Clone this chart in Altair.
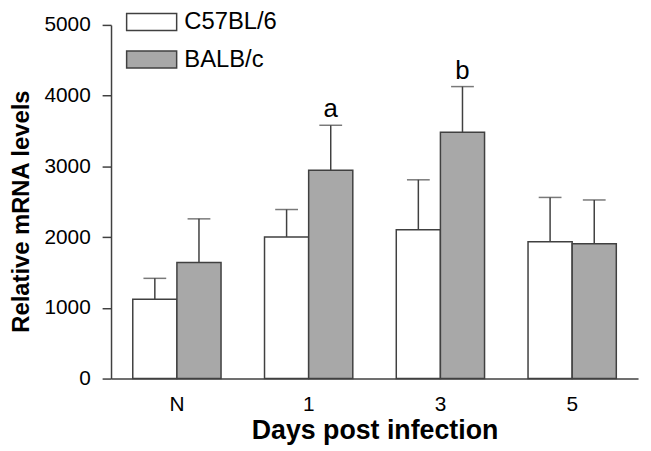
import altair as alt
import pandas as pd

days = ["N", "1", "3", "5"]
series = ["C57BL/6", "BALB/c"]
c57 = [1120, 2000, 2105, 1935]
c57_err = [297, 390, 705, 626]
balb = [1641, 2945, 3482, 1907]
balb_err = [617, 636, 646, 618]
c57_note = ["", "", "", ""]
balb_note = ["", "a", "b", ""]
y_ticks = [0, 1000, 2000, 3000, 4000, 5000]

rows = []
for i, d in enumerate(days):
    rows.append({"day": d, "strain": series[0], "value": c57[i], "top": c57[i] + c57_err[i], "note": c57_note[i]})
    rows.append({"day": d, "strain": series[1], "value": balb[i], "top": balb[i] + balb_err[i], "note": balb_note[i]})
df = pd.DataFrame(rows)

FONT = "Liberation Sans"
DARK = "#404040"

x = alt.X("day:N", sort=days,
          scale=alt.Scale(paddingInner=0.33, paddingOuter=0.165),
          axis=alt.Axis(title="Days post infection", labelAngle=0, ticks=False, tickSize=0,
                        labelPadding=15, labelFontSize=21, labelFont=FONT, labelColor="black",
                        titleFont=FONT, titleFontSize=27, titleFontWeight="bold", titleColor="black",
                        titleBaseline="alphabetic", titleY=60,
                        domainColor=DARK, domainWidth=1.5))
xo = alt.XOffset("strain:N", sort=series, scale=alt.Scale(paddingInner=0, paddingOuter=0))
fill_scale = alt.Scale(domain=series, range=["#ffffff", "#a8a8a8"])

base = alt.Chart(df)

bars = base.mark_bar(stroke=DARK, strokeWidth=1.5).encode(
    x=x, xOffset=xo,
    y=alt.Y("value:Q", scale=alt.Scale(domain=[0, 5000], nice=False),
            axis=alt.Axis(title="Relative mRNA levels", values=y_ticks, format="d", grid=False,
                          tickSize=9, tickColor=DARK, tickWidth=1.5,
                          domainColor=DARK, domainWidth=1.5,
                          labelPadding=12, labelFontSize=21, labelFont=FONT, labelColor="black",
                          titleFont=FONT, titleFontSize=24, titleFontWeight="bold", titleColor="black",
                          titleBaseline="alphabetic", titleX=-83, titleY=188, titleAngle=270)),
    fill=alt.Fill("strain:N", sort=series, scale=fill_scale,
                  legend=alt.Legend(title=None, orient="none", legendX=15, legendY=-29,
                                    symbolType="M-1,-0.34H1V0.34H-1Z", symbolSize=2550,
                                    symbolStrokeColor=DARK, symbolStrokeWidth=1.5, symbolOpacity=1,
                                    labelFont=FONT, labelFontSize=24, labelColor="black",
                                    labelOffset=7, rowPadding=-6, padding=0)),
)

err = base.mark_rule(color=DARK, strokeWidth=1.5).encode(
    x=x, xOffset=xo, y="value:Q", y2="top:Q")

caps = base.mark_tick(color=DARK, thickness=1.5, size=23).encode(
    x=x, xOffset=xo, y="top:Q")

notes = base.mark_text(font=FONT, fontSize=26, color="black", baseline="alphabetic", dy=-8).encode(
    x=x, xOffset=xo, y="top:Q", text="note:N")

chart = alt.layer(err, bars, caps, notes).properties(
    width=532, height=357,
    padding={"left": 104, "top": 15, "right": 5, "bottom": 66},
    autosize=alt.AutoSizeParams(type="none"),
    background="white",
).configure_view(stroke=None)

chart.save("out.html", embed_options={"renderer": "svg", "actions": False})
